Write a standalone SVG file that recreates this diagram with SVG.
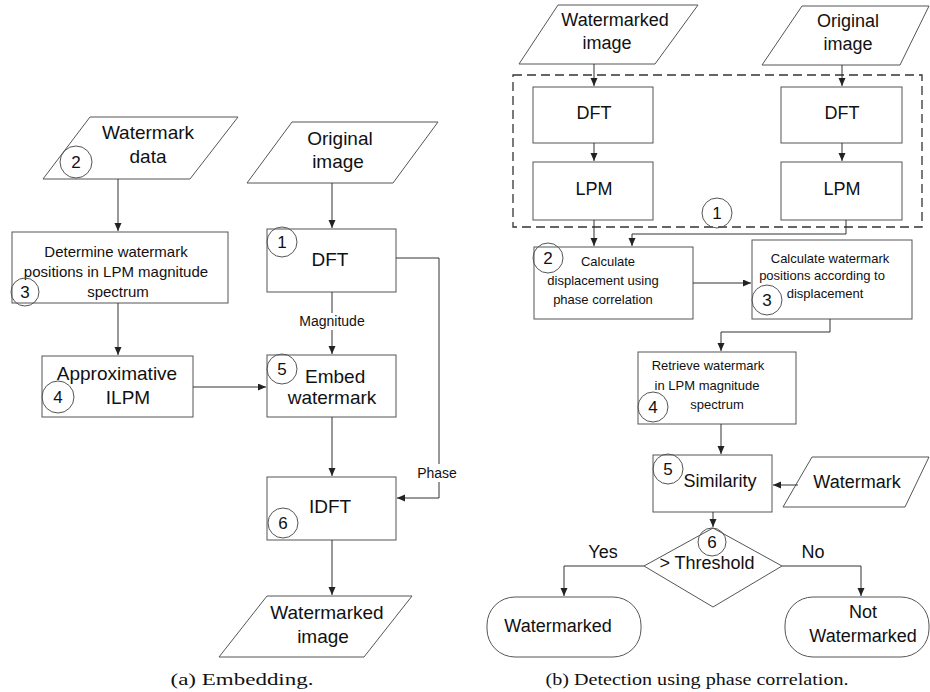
<svg xmlns="http://www.w3.org/2000/svg" width="930" height="692" viewBox="0 0 930 692">
  <defs>
    <marker id="arrow" markerUnits="userSpaceOnUse" markerWidth="9" markerHeight="8" refX="8" refY="3.5" orient="auto">
      <path d="M0,0 L8,3.5 L0,7 Z" fill="#222"/>
    </marker>
    <style>
      .shape { fill: #fff; stroke: #555; stroke-width: 1; }
      .num { fill: none; stroke: #555; stroke-width: 1; }
      .group { fill: none; stroke: #333; stroke-width: 1.3; stroke-dasharray: 9 5; }
      .conn { fill: none; stroke: #333; stroke-width: 1; marker-end: url(#arrow); }
      text { font-family: "Liberation Sans", Arial, sans-serif; fill: #111; text-anchor: middle; }
      .start { text-anchor: start; }
      .big { font-size: 19px; }
      .mid { font-size: 18px; }
      .small { font-size: 15px; }
      .tiny { font-size: 13px; }
      .lbl { font-size: 14px; }
      .n { font-size: 17px; }
      .cap { font-family: "Liberation Serif", "Times New Roman", serif; font-size: 17px; }
    </style>
  </defs>
  <rect width="930" height="692" fill="#fff"/>

  <!-- (a) Embedding -->
  <g id="a-watermark-data">
    <polygon class="shape" points="90,117 238,117 190,179 43,179"/>
    <text class="big" x="148" y="139">Watermark</text>
    <text class="big" x="148" y="163">data</text>
    <circle class="num" cx="76" cy="162" r="16"/>
    <text class="n" x="76" y="168">2</text>
  </g>
  <g id="a-positions">
    <rect class="shape" x="12" y="232" width="216" height="71"/>
    <text class="small" x="116" y="257">Determine watermark</text>
    <text class="small" x="116" y="277">positions in LPM magnitude</text>
    <text class="small" x="118" y="297">spectrum</text>
    <circle class="num" cx="25" cy="292" r="14"/>
    <text class="n" x="25" y="298">3</text>
  </g>
  <g id="a-ilpm">
    <rect class="shape" x="42" y="356" width="151" height="61"/>
    <text class="big" x="117" y="380">Approximative</text>
    <text class="big" x="128" y="404">ILPM</text>
    <circle class="num" cx="58" cy="397" r="16"/>
    <text class="n" x="58" y="403">4</text>
  </g>
  <g id="a-original">
    <polygon class="shape" points="292,122 438,122 393,183 247,183"/>
    <text class="big" x="340" y="145">Original</text>
    <text class="big" x="338" y="168">image</text>
  </g>
  <g id="a-dft">
    <rect class="shape" x="267" y="229" width="129" height="63"/>
    <text class="big" x="330" y="266">DFT</text>
    <circle class="num" cx="282" cy="242" r="15"/>
    <text class="n" x="282" y="248">1</text>
  </g>
  <g id="a-embed">
    <rect class="shape" x="267" y="355" width="129" height="62"/>
    <text class="big start" x="305" y="383">Embed</text>
    <text class="big" x="332" y="404">watermark</text>
    <circle class="num" cx="282" cy="369" r="15"/>
    <text class="n" x="282" y="375">5</text>
  </g>
  <g id="a-idft">
    <rect class="shape" x="267" y="477" width="129" height="63"/>
    <text class="big" x="330" y="513">IDFT</text>
    <circle class="num" cx="283" cy="523" r="15"/>
    <text class="n" x="283" y="529">6</text>
  </g>
  <g id="a-watermarked">
    <polygon class="shape" points="267,596 412,596 364,657 219,657"/>
    <text class="big" x="327" y="619">Watermarked</text>
    <text class="big" x="323" y="643">image</text>
  </g>

  <!-- (b) Detection -->
  <g id="b-stage1">
    <rect class="group" x="513" y="75" width="409" height="152"/>
    <circle class="num" cx="717" cy="213" r="15"/>
    <text class="n" x="717" y="219">1</text>
  </g>
  <g id="b-watermarked-image">
    <polygon class="shape" points="558,5 698,5 655,64 519,64"/>
    <text class="mid" x="615" y="26">Watermarked</text>
    <text class="mid" x="607" y="49">image</text>
  </g>
  <g id="b-original-image">
    <polygon class="shape" points="802,6 929,6 900,65 762,65"/>
    <text class="mid" x="848" y="27">Original</text>
    <text class="mid" x="848" y="50">image</text>
  </g>
  <g id="b-dft-left">
    <rect class="shape" x="533" y="87" width="120" height="56"/>
    <text class="mid" x="594" y="119">DFT</text>
  </g>
  <g id="b-lpm-left">
    <rect class="shape" x="533" y="162" width="120" height="58"/>
    <text class="mid" x="594" y="195">LPM</text>
  </g>
  <g id="b-dft-right">
    <rect class="shape" x="781" y="87" width="121" height="56"/>
    <text class="mid" x="842" y="119">DFT</text>
  </g>
  <g id="b-lpm-right">
    <rect class="shape" x="781" y="162" width="121" height="58"/>
    <text class="mid" x="842" y="195">LPM</text>
  </g>
  <g id="b-displacement">
    <rect class="shape" x="534" y="247" width="159" height="72"/>
    <text class="tiny" x="608" y="266">Calculate</text>
    <text class="tiny" x="603" y="285">displacement using</text>
    <text class="tiny" x="603" y="304">phase correlation</text>
    <circle class="num" cx="548" cy="258" r="15"/>
    <text class="n" x="548" y="264">2</text>
  </g>
  <g id="b-positions">
    <rect class="shape" x="752" y="240" width="160" height="79"/>
    <text class="tiny" x="830" y="263">Calculate watermark</text>
    <text class="tiny" x="822" y="280">positions according to</text>
    <text class="tiny" x="825" y="298">displacement</text>
    <circle class="num" cx="767" cy="300" r="15"/>
    <text class="n" x="767" y="306">3</text>
  </g>
  <g id="b-retrieve">
    <rect class="shape" x="638" y="352" width="158" height="72"/>
    <text class="tiny" x="708" y="370">Retrieve watermark</text>
    <text class="tiny" x="707" y="390">in LPM magnitude</text>
    <text class="tiny" x="717" y="409">spectrum</text>
    <circle class="num" cx="653" cy="407" r="15"/>
    <text class="n" x="653" y="413">4</text>
  </g>
  <g id="b-similarity">
    <rect class="shape" x="653" y="455" width="119" height="57"/>
    <text class="mid" x="720" y="487">Similarity</text>
    <circle class="num" cx="668" cy="469" r="15"/>
    <text class="n" x="668" y="475">5</text>
  </g>
  <g id="b-watermark">
    <polygon class="shape" points="812,457 929,457 905,507 783,507"/>
    <text class="mid" x="857" y="488">Watermark</text>
  </g>
  <g id="b-threshold">
    <polygon class="shape" points="713,528 782,566 713,607 644,566"/>
    <text class="mid" x="707" y="569">&gt; Threshold</text>
    <circle class="num" cx="712" cy="542" r="14"/>
    <text class="n" x="712" y="548">6</text>
  </g>
  <g id="b-yes">
    <rect class="shape" x="487" y="597" width="154" height="60" rx="28" ry="28"/>
    <text class="mid" x="558" y="632">Watermarked</text>
  </g>
  <g id="b-no">
    <rect class="shape" x="785" y="597" width="144" height="60" rx="28" ry="28"/>
    <text class="mid" x="863" y="618">Not</text>
    <text class="mid" x="863" y="642">Watermarked</text>
  </g>

  <!-- connectors -->
  <g id="connectors">
    <path class="conn" d="M118,179 V231"/>
    <path class="conn" d="M118,303 V355"/>
    <path class="conn" d="M193,387 H266"/>
    <path class="conn" d="M332,183 V228"/>
    <path class="conn" d="M332,292 V354"/>
    <path class="conn" d="M396,258 H439 V498 H397"/>
    <path class="conn" d="M332,417 V476"/>
    <path class="conn" d="M332,540 V595"/>

    <path class="conn" d="M594,64 V86"/>
    <path class="conn" d="M594,143 V161"/>
    <path class="conn" d="M842,65 V86"/>
    <path class="conn" d="M842,143 V161"/>
    <path class="conn" d="M594,220 V246"/>
    <path class="conn" d="M846,220 V234 H632 V246"/>
    <path class="conn" d="M693,283 H751"/>
    <path class="conn" d="M830,319 V332 H721 V351"/>
    <path class="conn" d="M721,424 V454"/>
    <path class="conn" d="M798,485 H773"/>
    <path class="conn" d="M713,512 V527"/>
    <path class="conn" d="M644,566 H564 V596"/>
    <path class="conn" d="M782,566 H861 V596"/>

    <rect x="300" y="313" width="64" height="17" fill="#fff"/>
    <text class="lbl" x="332" y="326">Magnitude</text>
    <rect x="416" y="464" width="44" height="18" fill="#fff"/>
    <text class="lbl" x="437" y="478">Phase</text>
    <text class="mid" x="603" y="558">Yes</text>
    <text class="mid" x="813" y="558">No</text>
  </g>

  <text class="cap" x="242" y="685" textLength="143" lengthAdjust="spacingAndGlyphs">(a) Embedding.</text>
  <text class="cap" x="697" y="685" textLength="303" lengthAdjust="spacingAndGlyphs">(b) Detection using phase correlation.</text>
</svg>
